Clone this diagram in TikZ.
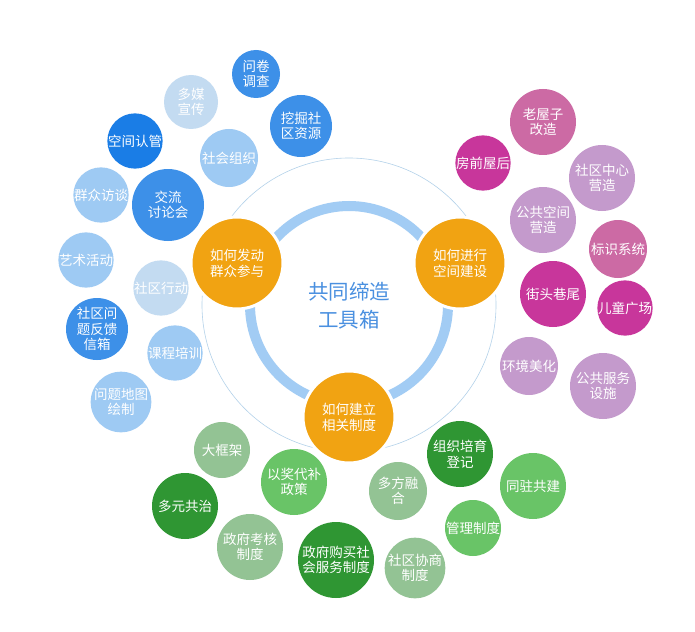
\documentclass[tikz,border=0pt]{standalone}
\usepackage{fontspec}
\setmainfont{Noto Sans CJK SC}
\usepackage{tikz}
\usetikzlibrary{positioning}
\usetikzlibrary{calc}
\definecolor{qorange}{HTML}{F1A312}
\definecolor{ringblue}{HTML}{A2CCF4}
\definecolor{thinblue}{HTML}{B4D2EA}
\definecolor{titleblue}{HTML}{4A90E0}
\definecolor{bdark}{HTML}{1A7DE6}
\definecolor{bmid}{HTML}{3D90E8}
\definecolor{blight}{HTML}{9ECAF3}
\definecolor{bpale}{HTML}{C3DBF1}
\definecolor{pmag}{HTML}{C8369B}
\definecolor{prose}{HTML}{CC6AA4}
\definecolor{plilac}{HTML}{C49ACC}
\definecolor{gdark}{HTML}{2F9633}
\definecolor{gbright}{HTML}{69C467}
\definecolor{gsage}{HTML}{93C394}
\tikzstyle{bubble}=[circle,inner sep=0pt,text=white,align=center,font=\fontsize{13.5}{15.5}\selectfont]
\tikzstyle{question}=[circle,fill=qorange,draw=white,line width=3pt,minimum size=92pt,inner sep=0pt,text=white,align=center,font=\fontsize{13.5}{16}\selectfont]
\tikzstyle{thickring} = [draw=ringblue,line width=10pt]
\tikzstyle{thinring} = [draw=thinblue,line width=0.6pt]

\begin{document}
\begin{tikzpicture}[x=1pt,y=-1pt]
    \useasboundingbox[fill=white] (0,0) rectangle (695,631);

    \coordinate (C) at (349,305);
    \path[thinring] (C) circle (147);
    \path[thickring] (C) circle (99);

    \node[question] (Q1) at (237,263) {如何发动\\群众参与};
    \node[question] (Q2) at (460,263) {如何进行\\空间建设};
    \node[question] (Q3) at (349,417) {如何建立\\相关制度};

    \node[text=titleblue,align=center,font=\fontsize{20.5}{28}\selectfont] (T) at (349,306) {共同缔造\\工具箱};

%   blue: Q1
    \foreach \k/\px/\py/\rad/\col/\lbl in {1/256/74/24/bmid/{问卷\\调查}, 2/191/102/27/bpale/{多媒\\宣传}, 3/301/126/31/bmid/{挖掘社\\区资源}, 4/135/141/26/bdark/{空间认管}, 5/229/158/29/blight/{社会组织}, 6/101/195/26/blight/{群众访谈}, 7/168/205/36/bmid/{交流\\讨论会}, 8/86/260/26/blight/{艺术活动}, 9/161/288/26/bpale/{社区行动}, 10/97/329/31/bmid/{社区问\\题反馈\\信箱}, 11/175/353/27/blight/{课程培训}, 12/121/402/29/blight/{问题地图\\绘制}}
        \node[bubble, fill=\col, minimum size=2*\rad pt] (B\k) at (\px,\py) {\lbl};

%   pink: Q2
    \foreach \k/\px/\py/\rad/\col/\lbl in {1/543/122/33/prose/{老屋子\\改造}, 2/483/163/27/pmag/{房前屋后}, 3/602/178/33/plilac/{社区中心\\营造}, 4/543/220/33/plilac/{公共空间\\营造}, 5/618/249/29/prose/{标识系统}, 6/553/294/33/pmag/{街头巷尾}, 7/625/308/27/pmag/{儿童广场}, 8/529/366/29/plilac/{环境美化}, 9/603/386/33/plilac/{公共服务\\设施}}
        \node[bubble, fill=\col, minimum size=2*\rad pt] (P\k) at (\px,\py) {\lbl};

%   green: Q3
    \foreach \k/\px/\py/\rad/\col/\lbl in {1/222/450/28/gsage/{大框架}, 2/294/482/33/gbright/{以奖代补\\政策}, 3/185/506/33/gdark/{多元共治}, 4/250/547/33/gsage/{政府考核\\制度}, 5/336/560/38/gdark/{政府购买社\\会服务制度}, 6/460/454/33/gdark/{组织培育\\登记}, 7/398/491/29/gsage/{多方融\\合}, 8/533/486/33/gbright/{同驻共建}, 9/473/528/28/gbright/{管理制度}, 10/415/568/30/gsage/{社区协商\\制度}}
        \node[bubble, fill=\col, minimum size=2*\rad pt] (G\k) at (\px,\py) {\lbl};

\end{tikzpicture}
\end{document}
